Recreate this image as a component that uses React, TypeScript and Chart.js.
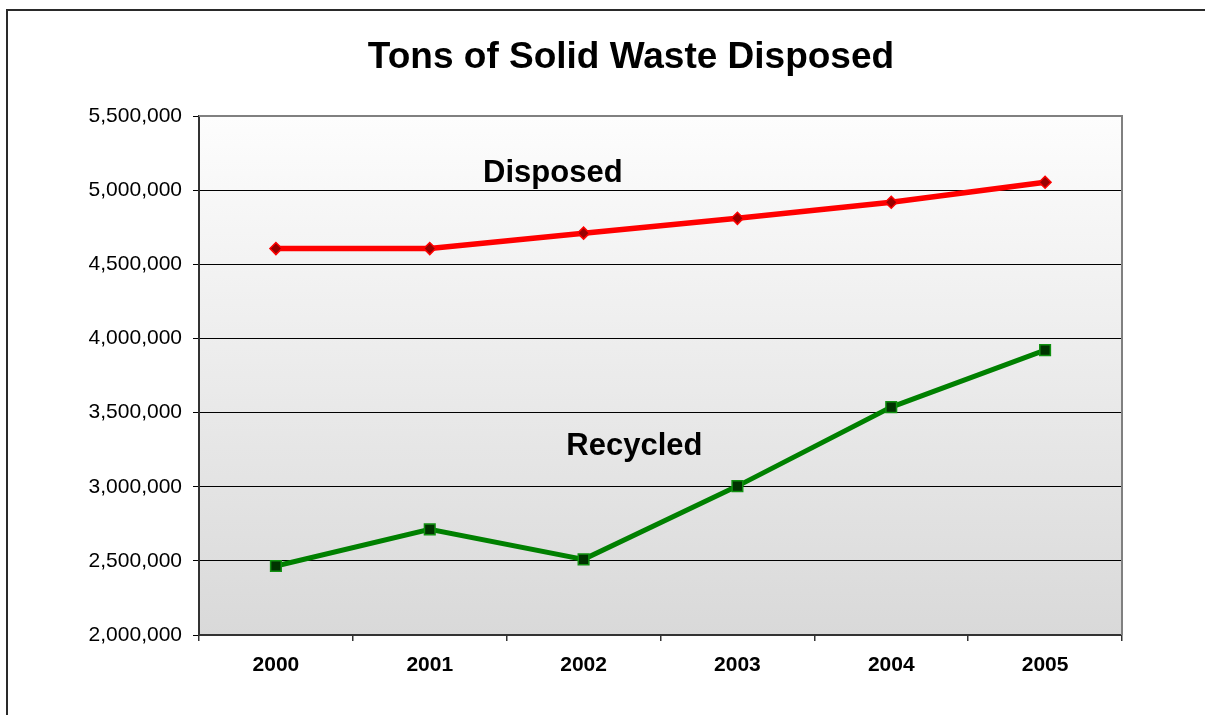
import React, { useEffect, useRef } from "react";
import { Chart, registerables } from "chart.js";

Chart.register(...registerables);

const years = ["2000", "2001", "2002", "2003", "2004", "2005"];
const disposed = [4606000, 4606000, 4710000, 4810000, 4918000, 5053000];
const recycled = [2465000, 2712000, 2510000, 3004000, 3537000, 3921000];
const yMin = 2000000;
const yMax = 5500000;
const yStep = 500000;
const titleText = "Tons of Solid Waste Disposed";
const annotationLabels = ["Disposed", "Recycled"];
const annotationX = [1.8, 2.33];
const annotationY = [5055000, 3214000];

const FONT = '"Liberation Sans", Arial, Helvetica, sans-serif';

const decorPlugin = {
  id: "decor",
  beforeDraw(chart: any) {
    const { ctx, chartArea } = chart;
    const { left, top, right, bottom } = chartArea;
    ctx.save();
    const g = ctx.createLinearGradient(0, top, 0, bottom);
    g.addColorStop(0, "#fdfdfd");
    g.addColorStop(1, "#d9d9d9");
    ctx.fillStyle = g;
    ctx.fillRect(left, top, right - left, bottom - top);
    // outer frame
    ctx.fillStyle = "#2a2a2a";
    ctx.fillRect(6, 9, chart.width - 6, 2);
    ctx.fillRect(6, 9, 2, chart.height - 9);
    // title
    ctx.fillStyle = "#000";
    ctx.font = `bold 37px ${FONT}`;
    ctx.textAlign = "center";
    ctx.textBaseline = "alphabetic";
    ctx.fillText(titleText, 631, 68);
    ctx.restore();
  },
  afterDraw(chart: any) {
    const { ctx, chartArea, scales } = chart;
    ctx.save();
    // plot border top & right
    ctx.strokeStyle = "#808080";
    ctx.lineWidth = 2;
    ctx.beginPath();
    ctx.moveTo(chartArea.left, chartArea.top);
    ctx.lineTo(chartArea.right, chartArea.top);
    ctx.lineTo(chartArea.right, chartArea.bottom);
    ctx.stroke();
    // annotations
    ctx.fillStyle = "#000";
    ctx.font = `bold 31px ${FONT}`;
    ctx.textAlign = "center";
    ctx.textBaseline = "alphabetic";
    annotationLabels.forEach((t, i) => {
      const x = scales.x.getPixelForValue(annotationX[i]);
      const y = scales.y.getPixelForValue(annotationY[i]);
      ctx.fillText(t, x, y);
    });
    ctx.restore();
  },
};

export default function App() {
  const ref = useRef<HTMLCanvasElement>(null);
  useEffect(() => {
    if (!ref.current) return;
    const chart = new Chart(ref.current, {
      type: "line",
      data: {
        labels: years,
        datasets: [
          {
            label: "Disposed",
            data: disposed,
            borderColor: "#ff0000",
            borderWidth: 5.5,
            pointStyle: "rectRot",
            pointRadius: 6,
            pointBackgroundColor: "#990000",
            pointBorderColor: "#ff0000",
            pointBorderWidth: 1.5,
            tension: 0,
            fill: false,
          },
          {
            label: "Recycled",
            data: recycled,
            borderColor: "#008000",
            borderWidth: 5,
            pointStyle: "rect",
            pointRadius: 7.5,
            pointBackgroundColor: "#003300",
            pointBorderColor: "#109010",
            pointBorderWidth: 1.5,
            tension: 0,
            fill: false,
          },
        ],
      },
      options: {
        responsive: false,
        animation: false,
        devicePixelRatio: 1,
        layout: { padding: { left: 0, top: 116, right: 83, bottom: 0 }, autoPadding: false },
        plugins: {
          legend: { display: false },
          title: { display: false },
          tooltip: { enabled: false },
        },
        scales: {
          x: {
            offset: true,
            grid: {
              offset: true,
              drawOnChartArea: false,
              drawTicks: true,
              tickLength: 6,
              color: "#333",
              lineWidth: 1.5,
            },
            border: { color: "#333", width: 2 },
            ticks: {
              color: "#000",
              font: { family: FONT, size: 21, weight: "bold" },
              padding: 12,
              maxRotation: 0,
            },
            afterFit(scale: any) {
              scale.height = 80;
            },
          },
          y: {
            min: yMin,
            max: yMax,
            grid: {
              color: "#000",
              lineWidth: 1,
              tickLength: 6,
              drawTicks: true,
            },
            border: { color: "#333", width: 2 },
            ticks: {
              stepSize: yStep,
              color: "#000",
              font: { family: FONT, size: 21 },
              padding: 11,
              callback: (v: any) => Number(v).toLocaleString("en-US"),
            },
            afterFit(scale: any) {
              scale.width = 199;
            },
          },
        },
      },
      plugins: [decorPlugin],
    });
    return () => chart.destroy();
  }, []);
  return (
    <div style={{ position: "fixed", left: 0, top: 0, width: 1205, height: 715, background: "#fff" }}>
      <canvas ref={ref} width={1205} height={715} style={{ display: "block" }} />
    </div>
  );
}
